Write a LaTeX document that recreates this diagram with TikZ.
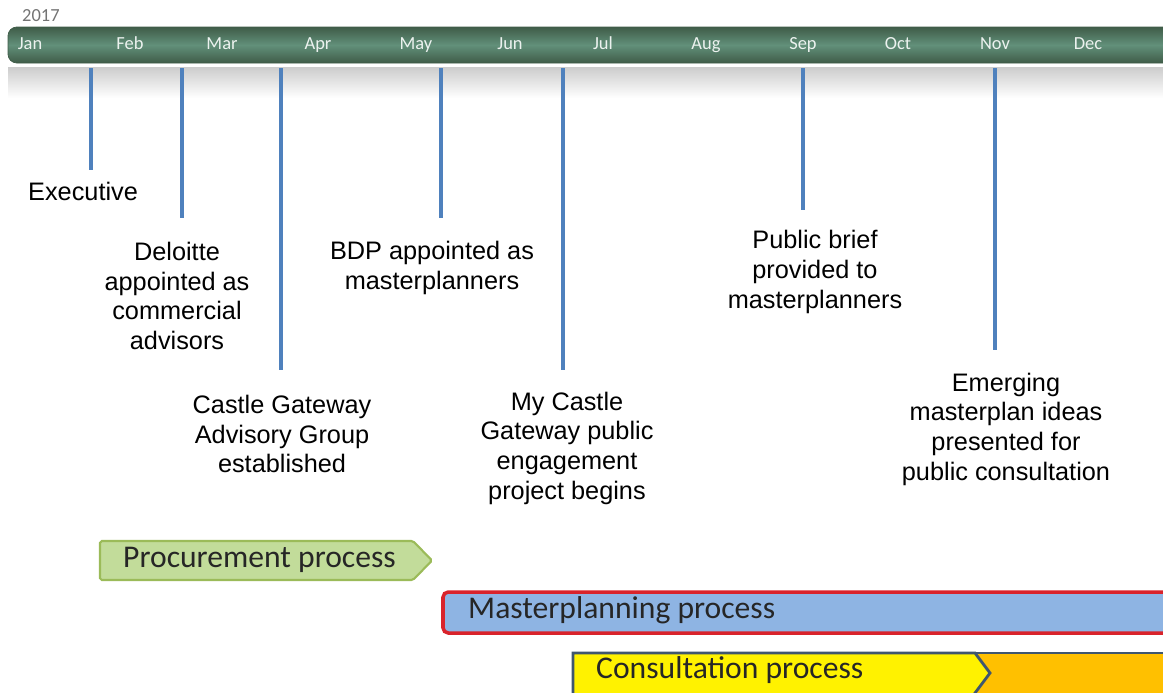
\documentclass[tikz,border=0pt]{standalone}
\usepackage{fontspec}
\setmainfont{Liberation Sans}
\newfontfamily\calibri{Carlito}
\usetikzlibrary{positioning}
\definecolor{bargreen}{HTML}{62907A}
\definecolor{bardark}{HTML}{3F5C48}
\definecolor{markblue}{HTML}{4F81BD}
\definecolor{procfill}{HTML}{C2DC9A}
\definecolor{procline}{HTML}{9BBB59}
\definecolor{masterfill}{HTML}{8EB4E3}
\definecolor{masterline}{HTML}{D9232B}
\definecolor{consline}{HTML}{3F566E}
\definecolor{consorange}{HTML}{FFC000}

\begin{document}
\begin{tikzpicture}[x=0.02cm, y=-0.02cm,
      month/.style = {text=white!88!bargreen, anchor=base,
        font=\calibri\fontsize{10.5}{12}\selectfont
      },
      marker/.style = {draw=markblue, line width=2.3pt},
      event/.style = {align=center,
        font=\fontsize{14.4}{16.9}\selectfont
      },
      phase/.style = {anchor=west, text=black!85,
        font=\calibri\fontsize{18}{21}\selectfont
      }
    ]
    \useasboundingbox (0,0) rectangle (1163,693);
    \clip (0,0) rectangle (1163,693);

    % timeline bar
    \node[text=black!55, font=\calibri\fontsize{10.5}{12}\selectfont, anchor=west] (year) at (16,16) {2017};
    \shade[top color=gray!40, bottom color=white] (8,67) rectangle (1163,98);
    \shade[top color=bardark, bottom color=bardark, middle color=bargreen, draw=bardark, rounded corners=5]
      (8,27) rectangle (1200,63);
    \foreach \m/\x in {Jan/30, Feb/130, Mar/222, Apr/318, May/416, Jun/510,
                       Jul/603, Aug/706, Sep/803, Oct/898, Nov/995, Dec/1088}
      \node[month] (\m) at (\x,50) {\m};

    % events
    \node[event, anchor=west] (exec) at (22,191) {Executive};
    \node[event] (deloitte) at (177,296) {Deloitte\\appointed as\\commercial\\advisors};
    \node[event] (advisory) at (282,434) {Castle Gateway\\Advisory Group\\established};
    \node[event] (bdp) at (432,268) {BDP appointed as\\masterplanners};
    \node[event] (engage) at (567,448) {My Castle\\Gateway public\\engagement\\project begins};
    \node[event] (brief) at (815,272) {Public brief\\provided to\\masterplanners};
    \node[event] (ideas) at (1006,429) {Emerging\\masterplan ideas\\presented for\\public consultation};

    \foreach \n/\x/\y in {1/91/170, 2/182/218, 3/281/370, 4/441/218,
                          5/563/370, 6/803/210, 7/995/350}{
      \coordinate (top\n) at (\x,68);
      \coordinate (end\n) at (\x,\y);
      \draw[marker] (top\n) -- (end\n);
    }

    % processes
    \draw[fill=procfill, draw=procline, line width=1.2pt, rounded corners=1pt]
      (100,541) -- (413,541) -- (432,560.5) -- (413,580) -- (100,580) -- cycle;
    \node[phase] (procurement) at (117,560) {Procurement process};

    \draw[fill=masterfill, draw=masterline, line width=2pt, rounded corners=3pt]
      (443,592) rectangle (1200,633);
    \node[phase] (masterplanning) at (462,610) {Masterplanning process};

    \draw[fill=consorange, draw=consline, line width=1.6pt] (573,653) rectangle (1200,710);
    \draw[fill=yellow, draw=consline, line width=1.6pt]
      (573,710) -- (573,653) -- (975,653) -- (990,673) -- (975,693) -- (960,713);
    \node[phase] (consultation) at (590,670) {Consultation process};
\end{tikzpicture}
\end{document}
